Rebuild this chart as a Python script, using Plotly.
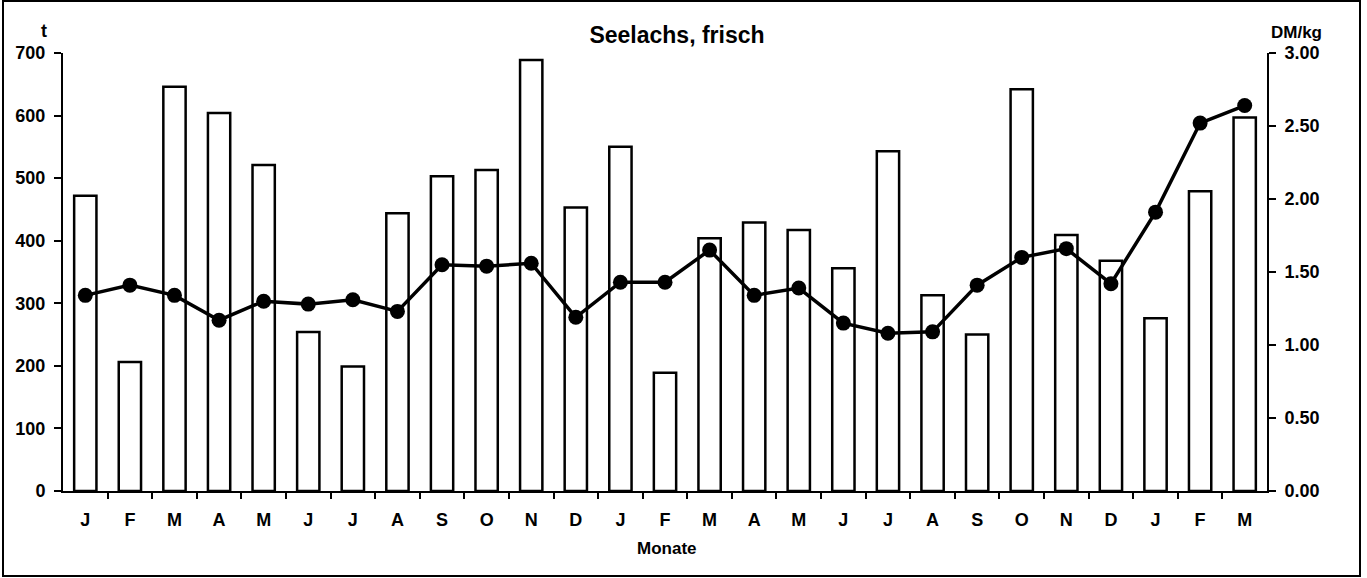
import plotly.graph_objects as go

months = ["J", "F", "M", "A", "M", "J", "J", "A", "S", "O", "N", "D",
          "J", "F", "M", "A", "M", "J", "J", "A", "S", "O", "N", "D",
          "J", "F", "M"]
menge_t = [472, 206, 646, 604, 521, 254, 199, 444, 503, 513, 689, 453,
           550, 189, 404, 429, 417, 356, 543, 313, 250, 642, 409, 368,
           276, 479, 597]
preis_dm = [1.34, 1.41, 1.34, 1.17, 1.30, 1.28, 1.31, 1.23, 1.55, 1.54, 1.56, 1.19,
            1.43, 1.43, 1.65, 1.34, 1.39, 1.15, 1.08, 1.09, 1.41, 1.60, 1.66, 1.42,
            1.91, 2.52, 2.64]

x = list(range(len(months)))
FONT = "Liberation Sans, Arial, sans-serif"

fig = go.Figure()
fig.add_trace(go.Bar(
    x=x, y=menge_t, marker=dict(color="white", line=dict(color="black", width=2.5)),
    yaxis="y", showlegend=False))
fig.add_trace(go.Scatter(
    x=x, y=preis_dm, yaxis="y2", mode="lines+markers",
    line=dict(color="black", width=3.5),
    marker=dict(color="black", size=15), showlegend=False))

tickfont = dict(family=FONT, size=18, color="black", weight="bold")

fig.update_layout(
    width=1367, height=578,
    margin=dict(l=63, r=100, t=53, b=87, autoexpand=False),
    paper_bgcolor="white", plot_bgcolor="white",
    bargap=0.5,
    title=dict(text="<b>Seelachs, frisch</b>", x=677 / 1367, xanchor="center",
               y=1 - 35 / 578, yanchor="middle",
               font=dict(family=FONT, size=23, color="black")),
    xaxis=dict(
        range=[-0.5, 26.5], tickmode="array", tickvals=x, ticktext=months,
        ticks="", showgrid=False, zeroline=False, automargin=False,
        showline=True, linecolor="black", linewidth=2,
        tickfont=tickfont, ticklabelstandoff=11,
        minor=dict(tickmode="array", tickvals=[i + 0.5 for i in x[:-1]],
                   ticks="outside", ticklen=6, tickwidth=2, tickcolor="black")),
    yaxis=dict(
        range=[0, 700], tickvals=[0, 100, 200, 300, 400, 500, 600, 700],
        ticks="outside", ticklen=7, tickwidth=2, tickcolor="black", automargin=False,
        showgrid=False, zeroline=False, showline=True, linecolor="black", linewidth=2,
        tickfont=tickfont, ticklabelstandoff=5),
    yaxis2=dict(
        range=[0, 3], overlaying="y", side="right",
        tickvals=[0, 0.5, 1, 1.5, 2, 2.5, 3], tickformat=".2f", automargin=False,
        ticks="outside", ticklen=7, tickwidth=2, tickcolor="black",
        showgrid=False, zeroline=False, showline=True, linecolor="black", linewidth=2,
        tickfont=tickfont, ticklabelstandoff=5),
    annotations=[
        dict(text="<b>t</b>", xref="paper", yref="paper", x=(44 - 63) / 1204,
             y=(491 - 31) / 438, showarrow=False, xanchor="center", yanchor="middle",
             font=dict(family=FONT, size=18, color="black")),
        dict(text="<b>DM/kg</b>", xref="paper", yref="paper", x=(1296 - 63) / 1204,
             y=(491 - 33) / 438, showarrow=False, xanchor="center", yanchor="middle",
             font=dict(family=FONT, size=17, color="black")),
        dict(text="<b>Monate</b>", xref="paper", yref="paper", x=(667 - 63) / 1204,
             y=(491 - 548) / 438, showarrow=False, xanchor="center", yanchor="middle",
             font=dict(family=FONT, size=17, color="black")),
    ],
    shapes=[dict(type="rect", xref="paper", yref="paper",
                 x0=(3 - 63) / 1204, x1=(1360 - 63) / 1204,
                 y0=(491 - 576) / 438, y1=(491 - 1) / 438,
                 line=dict(color="black", width=2), fillcolor="rgba(0,0,0,0)")],
)

fig.write_html("out.html", config={"displayModeBar": False},
               post_script="document.body.style.margin='0';document.body.style.overflow='hidden';")
